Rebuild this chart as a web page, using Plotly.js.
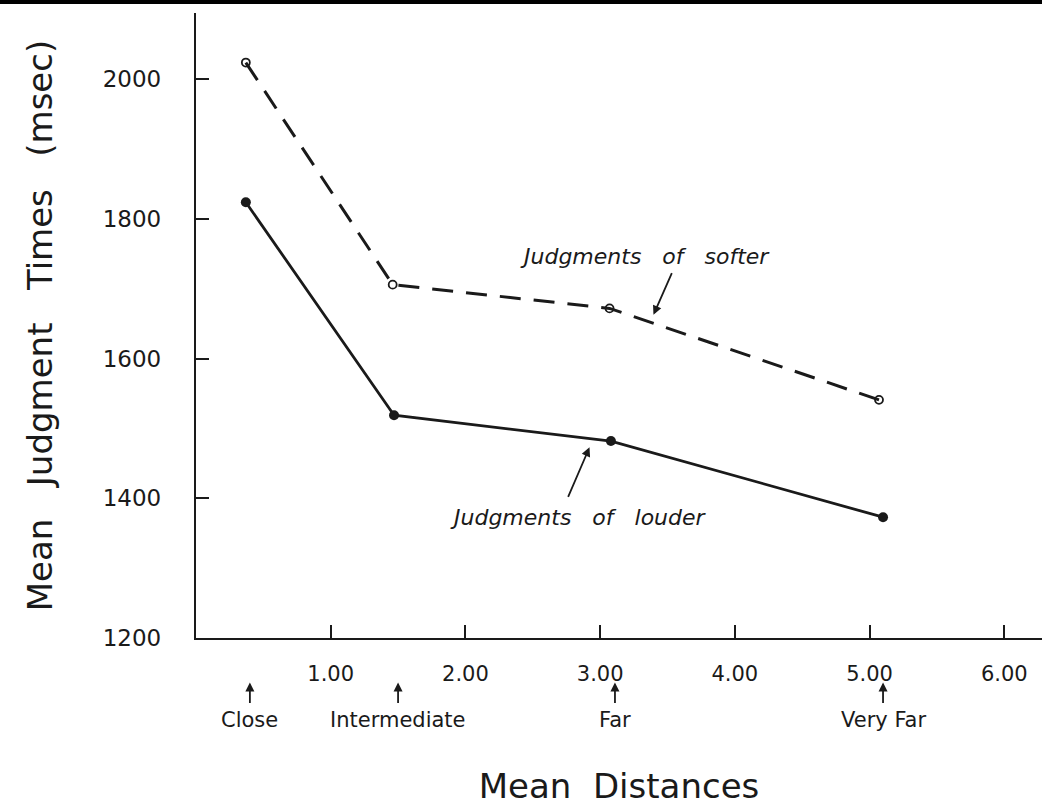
<!DOCTYPE html>
<html><head><meta charset="utf-8">
<script src="https://cdn.plot.ly/plotly-3.0.1.min.js"></script>
<style>html,body{margin:0;padding:0;background:#fff;overflow:hidden;}</style>
</head><body><div id="chart" style="width:1042px;height:806px;"></div>
<script>
// Data
const distancesSofter = [0.37, 1.46, 3.07, 5.07];
const timesSofter = [2024, 1706, 1672, 1541];
const distancesLouder = [0.37, 1.47, 3.08, 5.10];
const timesLouder = [1824, 1519, 1482, 1373];
const xTickVals = [1, 2, 3, 4, 5, 6];
const xTickText = ['1.00', '2.00', '3.00', '4.00', '5.00', '6.00'];
const yTickVals = [1200, 1400, 1600, 1800, 2000];
const yTickText = ['1200', '1400', '1600', '1800', '2000'];
const categoryNames = ['Close', 'Intermediate', 'Far', 'Very Far'];
const categoryX = [0.40, 1.50, 3.11, 5.10];

const FONT = 'DejaVu Sans, sans-serif';
const INK = '#1a1a1a';

const traces = [
  {
    x: distancesSofter, y: timesSofter, type: 'scatter', mode: 'lines+markers',
    name: 'Judgments of softer',
    line: {color: INK, width: 3, dash: '21px,13px'},
    marker: {symbol: 'circle-open', size: 8, color: INK, line: {width: 1.8, color: INK}},
    cliponaxis: false
  },
  {
    x: distancesLouder, y: timesLouder, type: 'scatter', mode: 'lines+markers',
    name: 'Judgments of louder',
    line: {color: INK, width: 2.8},
    marker: {symbol: 'circle', size: 10, color: INK},
    cliponaxis: false
  }
];

const annotations = [];
// category arrows under the x axis
categoryNames.forEach((name, i) => {
  annotations.push({
    x: categoryX[i], xref: 'x', y: -0.071, yref: 'paper',
    text: '', showarrow: true, arrowhead: 2, arrowsize: 1, arrowwidth: 1.8,
    arrowcolor: INK, ax: 0, ay: 22, standoff: 0
  });
  annotations.push({
    x: categoryX[i], xref: 'x', y: -0.131, yref: 'paper', yanchor: 'middle',
    text: name, showarrow: false, font: {family: FONT, size: 21, color: INK}
  });
});
// series labels
annotations.push({
  x: 3.33, xref: 'x', y: 1747, yref: 'y', text: 'Judgments   of   softer', showarrow: false,
  font: {family: FONT, size: 22, color: INK, style: 'italic'}
});
annotations.push({
  x: 3.396, xref: 'x', y: 1663, yref: 'y', text: '', showarrow: true,
  arrowhead: 2, arrowsize: 1, arrowwidth: 1.8, arrowcolor: INK, ax: 19, ay: -43
});
annotations.push({
  x: 2.84, xref: 'x', y: 1373, yref: 'y', text: 'Judgments   of   louder', showarrow: false,
  font: {family: FONT, size: 22, color: INK, style: 'italic'}
});
annotations.push({
  x: 2.921, xref: 'x', y: 1473, yref: 'y', text: '', showarrow: true,
  arrowhead: 2, arrowsize: 1, arrowwidth: 1.8, arrowcolor: INK, ax: -22, ay: 51
});

const layout = {
  width: 1042, height: 806,
  margin: {l: 196, r: 0, t: 13, b: 168},
  paper_bgcolor: '#fff', plot_bgcolor: '#fff',
  showlegend: false,
  font: {family: FONT, color: INK},
  xaxis: {
    range: [0, 6.28], tickvals: xTickVals, ticktext: xTickText,
    ticks: 'inside', ticklen: 13, tickwidth: 2, tickcolor: INK,
    showline: true, linecolor: INK, linewidth: 2.2, showgrid: false, zeroline: false,
    tickfont: {family: FONT, size: 21, color: INK}, ticklabelstandoff: 16,
    title: {text: 'Mean  Distances', font: {family: FONT, size: 34, color: INK}, standoff: 96},
    automargin: false
  },
  yaxis: {
    range: [1200, 2095], tickvals: yTickVals, ticktext: yTickText,
    ticks: 'inside', ticklen: 13, tickwidth: 2, tickcolor: INK,
    showline: true, linecolor: INK, linewidth: 2.2, showgrid: false, zeroline: false,
    tickfont: {family: FONT, size: 23, color: INK}, ticklabelstandoff: 28,
    title: {text: 'Mean   Judgment   Times   (msec)', font: {family: FONT, size: 34, color: INK}, standoff: 40},
    automargin: false
  },
  annotations: annotations,
  shapes: [{
    type: 'rect', xref: 'paper', yref: 'paper', x0: -0.24, x1: 1.01, y0: 1.0144, y1: 1.03,
    fillcolor: '#000', line: {width: 0}
  }]
};

Plotly.newPlot('chart', traces, layout, {displayModeBar: false, staticPlot: true});
</script></body></html>
